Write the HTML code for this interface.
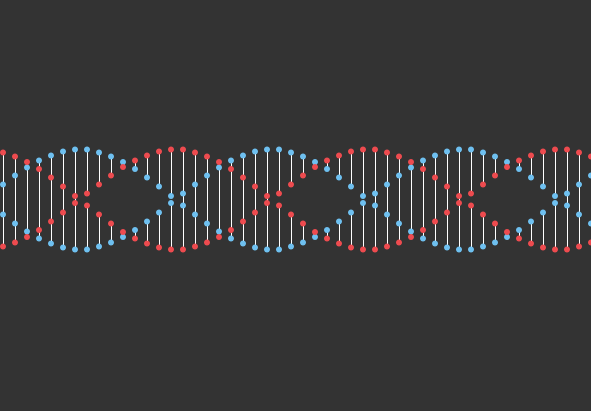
<!DOCTYPE html>
<html><head><meta charset="utf-8"><style>
html,body{margin:0;padding:0;background:#333;}
svg{display:block;}
</style></head><body>
<svg id="chart" width="591" height="411" viewBox="0 0 591 411">
<rect width="591" height="411" fill="#333"/>
<g id="rungs"></g>
<g id="dots"></g>
</svg>
<script>
// Signed strand offsets for helix 1 (helix 2 is the mirror), one per column
const redStrand = [47,43,37.5,30.5,22,13,3.5,-6,-15,-24,-32.5,-39,-44,-48,-50,-50,
  -47,-43,-37.5,-30.5,-22,-13,-3.5,6,15,24,32.5,39,44,48,50,50,
  47,43,37.5,30.5,22,13,3.5,-6,-15,-24,-32.5,-39,-44,-48,-50,-50,
  -47,-43];
const blueStrand = [-15,-24,-32,-39,-44,-48,-50,-50,-47,-43,-37.5,-30.5,-22,-13,-3.5,6,
  15,24,32,39,44,48,50,50,47,43,37.5,30.5,22,13,3.5,-6,
  -15,-24,-32,-39,-44,-48,-50,-50,-47,-43,-37.5,-30.5,-22,-13,-3.5,6,
  15,24];
const columns = redStrand.map((_, i) => i);

const xScale = i => 3 + 12 * i;
const yScale = v => 199.5 - v;
const NS = 'http://www.w3.org/2000/svg';
const rungs = document.getElementById('rungs');
const dots = document.getElementById('dots');

function addLine(x, y1, y2) {
  const l = document.createElementNS(NS, 'line');
  l.setAttribute('x1', x + 0.5); l.setAttribute('x2', x + 0.5);
  l.setAttribute('y1', y1); l.setAttribute('y2', y2);
  l.setAttribute('stroke', '#fff'); l.setAttribute('stroke-width', '1');
  
  
  rungs.appendChild(l);
}
function addDot(x, y, color, name) {
  const c = document.createElementNS(NS, 'circle');
  c.setAttribute('cx', x); c.setAttribute('cy', y); c.setAttribute('r', '3');
  c.setAttribute('fill', color);
  
  
  dots.appendChild(c);
}
columns.forEach(i => {
  const x = xScale(i);
  const r = redStrand[i], b = blueStrand[i];
  addLine(x, yScale(r), yScale(b));
  addLine(x, yScale(-r), yScale(-b));
});
columns.forEach(i => {
  const x = xScale(i);
  const r = redStrand[i], b = blueStrand[i];
  addDot(x, yScale(b), '#6ec0f0', 'blue-point');
  addDot(x, yScale(-b), '#6ec0f0', 'blue-point');
  addDot(x, yScale(r), '#ee4b4f', 'red-point');
  addDot(x, yScale(-r), '#ee4b4f', 'red-point');
});
</script>
</body></html>
